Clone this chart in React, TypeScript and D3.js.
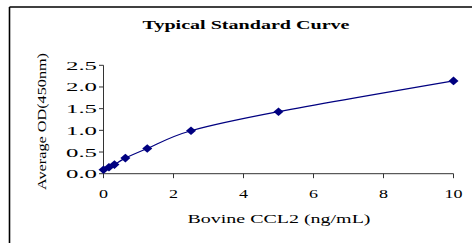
import React from "react";
import * as d3 from "d3";

// Typical standard curve (ELISA)

const concentrations = [0, 0.156, 0.3125, 0.625, 1.25, 2.5, 5, 10];
const odValues = [0.09, 0.15, 0.21, 0.36, 0.58, 0.99, 1.43, 2.14];
const xTicks = [0, 2, 4, 6, 8, 10];
const yTicks = [0, 0.5, 1, 1.5, 2, 2.5];

const W = 472, H = 243;
const left = 103.5, right = 453.5, top = 65.3, bottom = 173.7;
const serif = "'Liberation Serif', 'Times New Roman', Times, serif";
const txt = { fontFamily: serif };

export default function App() {
  const x = d3.scaleLinear().domain([0, 10]).range([left, right]);
  const y = d3.scaleLinear().domain([0, 2.5]).range([bottom, top]);
  const pts: [number, number][] = concentrations.map((c, i) => [c, odValues[i]]);

  const line = d3.line<[number, number]>()
    .x(d => x(d[0]))
    .y(d => y(d[1]))
    .curve(d3.curveCatmullRom.alpha(0));

  const diamond = "M0,-4.3L5,0L0,4.3L-5,0Z";

  return (
    <svg width={W} height={H} style={{ position: "absolute", left: 0, top: 0, background: "#fff" }}>
      {/* outer chart frame (only top/left visible) */}
      <line x1={9.5} x2={W} y1={7} y2={7} stroke="#000" strokeWidth={1.6} />
      <line x1={9.5} x2={9.5} y1={7} y2={H} stroke="#000" strokeWidth={1.6} />

      <text x={246} y={28.5} textAnchor="middle" fontWeight="bold" fontSize={13.5} style={txt}
        textLength={207} lengthAdjust="spacingAndGlyphs">Typical Standard Curve</text>

      {/* axes */}
      <line x1={left} x2={left} y1={top} y2={bottom} stroke="#333" strokeWidth={1} />
      <line x1={left} x2={right} y1={bottom} y2={bottom} stroke="#333" strokeWidth={1} />
      {yTicks.map(t => (
        <g key={"y" + t}>
          <line x1={left - 4.5} x2={left} y1={y(t)} y2={y(t)} stroke="#333" />
          <text x={97} y={y(t) + 4.5} textAnchor="end" fontSize={12.5} style={txt}
            textLength={31} lengthAdjust="spacingAndGlyphs">{t.toFixed(1)}</text>
        </g>
      ))}
      {xTicks.map(t => (
        <g key={"x" + t}>
          <line x1={x(t)} x2={x(t)} y1={bottom} y2={bottom + 4.5} stroke="#333" />
          <text x={x(t)} y={197.5} textAnchor="middle" fontSize={12.5} style={txt}
            textLength={String(t).length * 9} lengthAdjust="spacingAndGlyphs">{t}</text>
        </g>
      ))}

      <text x={279} y={223} textAnchor="middle" fontSize={13.5} style={txt}
        textLength={183} lengthAdjust="spacingAndGlyphs">Bovine CCL2 (ng/mL)</text>
      <text transform="translate(45.5,121.5) rotate(-90)" textAnchor="middle" fontSize={13} style={txt}
        textLength={137} lengthAdjust="spacingAndGlyphs">Average OD(450nm)</text>

      <path d={line(pts) ?? ""} fill="none" stroke="#000080" strokeWidth={1.2} />
      {pts.map((p, i) => (
        <path key={i} d={diamond} transform={`translate(${x(p[0])},${y(p[1])})`} fill="#000080" />
      ))}
    </svg>
  );
}
